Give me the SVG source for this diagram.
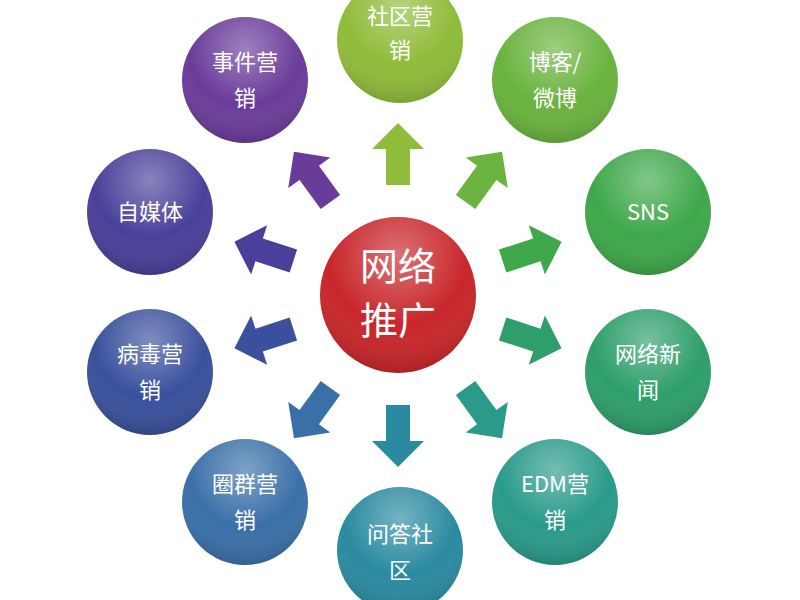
<svg xmlns="http://www.w3.org/2000/svg" width="800" height="600" viewBox="0 0 800 600">
<defs>
<radialGradient id="gl" cx="0.5" cy="0.25" r="0.75">
<stop offset="0" stop-color="#fff" stop-opacity="0.35"/>
<stop offset="0.6" stop-color="#fff" stop-opacity="0"/>
<stop offset="1" stop-color="#000" stop-opacity="0.15"/>
</radialGradient>
<path id="ar" d="M0,-32 L26,-6 L12,-6 L12,30 L-12,30 L-12,-6 L-26,-6 Z"/>
</defs>
<style>
text{font-family:"Noto Sans CJK SC","Liberation Sans",sans-serif;fill:#fff;text-anchor:middle}
.t{font-size:22px}
.c{font-size:38px}
.o{fill:url(#gl)}
</style>
<rect width="800" height="600" fill="#fff"/>
<g id="connectors">
<use href="#ar" fill="#8fbc3a" transform="translate(398,295) rotate(0) translate(0,-140)"/>
<use href="#ar" fill="#6ab33e" transform="translate(398,295) rotate(36) translate(0,-145)"/>
<use href="#ar" fill="#3ea84a" transform="translate(398,295) rotate(72) translate(0,-140)"/>
<use href="#ar" fill="#2e9e6a" transform="translate(398,295) rotate(108) translate(0,-140)"/>
<use href="#ar" fill="#2a9a8a" transform="translate(398,295) rotate(144) translate(0,-145)"/>
<use href="#ar" fill="#2a8aa0" transform="translate(398,295) rotate(180) translate(0,-140)"/>
<use href="#ar" fill="#3a70a8" transform="translate(398,295) rotate(216) translate(0,-145)"/>
<use href="#ar" fill="#3a509c" transform="translate(398,295) rotate(252) translate(0,-140)"/>
<use href="#ar" fill="#4a409a" transform="translate(398,295) rotate(288) translate(0,-140)"/>
<use href="#ar" fill="#6a3c9a" transform="translate(398,295) rotate(324) translate(0,-145)"/>
</g>
<g id="center"><circle cx="398" cy="295" r="78" fill="#c8262a"/><circle cx="398" cy="295" r="78" class="o"/>
<text class="c" x="398" y="280">网络</text><text class="c" x="398" y="334">推广</text></g>
<g id="n1"><circle cx="400" cy="40" r="63" fill="#8fbc3a"/><circle cx="400" cy="40" r="63" class="o"/><text class="t" x="400" y="24">社区营</text><text class="t" x="400" y="58">销</text></g>
<g id="n2"><circle cx="555" cy="80" r="63" fill="#6ab33e"/><circle cx="555" cy="80" r="63" class="o"/><text class="t" x="555" y="70">博客/</text><text class="t" x="555" y="106">微博</text></g>
<g id="n3"><circle cx="648" cy="212" r="63" fill="#3ea84a"/><circle cx="648" cy="212" r="63" class="o"/><text class="t" x="648" y="220">SNS</text></g>
<g id="n4"><circle cx="648" cy="372" r="63" fill="#2e9e6a"/><circle cx="648" cy="372" r="63" class="o"/><text class="t" x="648" y="362">网络新</text><text class="t" x="648" y="398">闻</text></g>
<g id="n5"><circle cx="555" cy="502" r="63" fill="#2a9a8a"/><circle cx="555" cy="502" r="63" class="o"/><text class="t" x="555" y="492">EDM营</text><text class="t" x="555" y="528">销</text></g>
<g id="n6"><circle cx="400" cy="550" r="63" fill="#2a8aa0"/><circle cx="400" cy="550" r="63" class="o"/><text class="t" x="400" y="542">问答社</text><text class="t" x="400" y="578">区</text></g>
<g id="n7"><circle cx="245" cy="502" r="63" fill="#3a70a8"/><circle cx="245" cy="502" r="63" class="o"/><text class="t" x="245" y="492">圈群营</text><text class="t" x="245" y="528">销</text></g>
<g id="n8"><circle cx="150" cy="372" r="63" fill="#3a509c"/><circle cx="150" cy="372" r="63" class="o"/><text class="t" x="150" y="362">病毒营</text><text class="t" x="150" y="398">销</text></g>
<g id="n9"><circle cx="150" cy="212" r="63" fill="#4a409a"/><circle cx="150" cy="212" r="63" class="o"/><text class="t" x="150" y="220">自媒体</text></g>
<g id="n10"><circle cx="245" cy="80" r="63" fill="#6a3c9a"/><circle cx="245" cy="80" r="63" class="o"/><text class="t" x="245" y="70">事件营</text><text class="t" x="245" y="106">销</text></g>
</svg>
